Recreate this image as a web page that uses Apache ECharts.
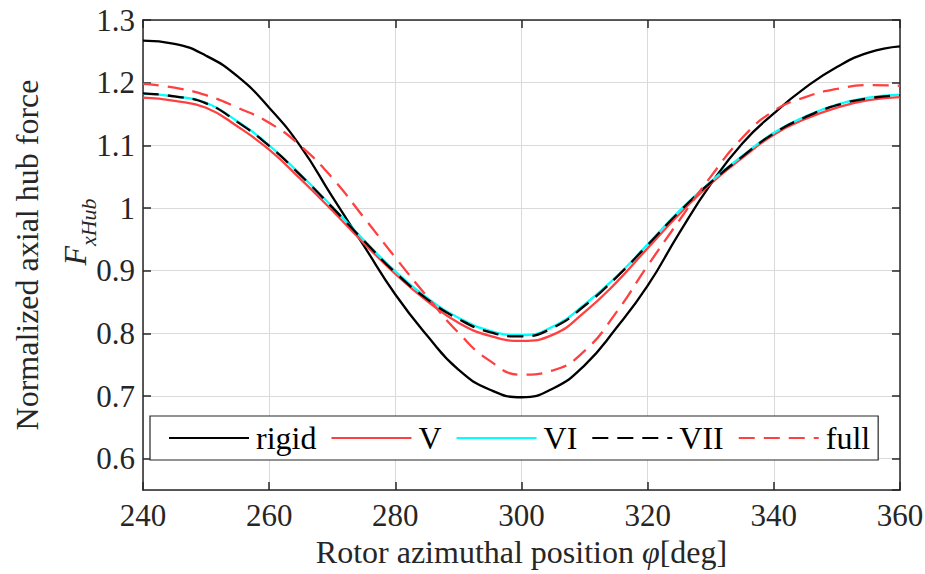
<!DOCTYPE html>
<html>
<head>
<meta charset="utf-8">
<title>Normalized axial hub force</title>
<script src="https://cdn.jsdelivr.net/npm/echarts@6/dist/echarts.min.js"></script>
<style>
  html, body { margin: 0; padding: 0; background: #ffffff; }
  #chart { width: 925px; height: 574px; }
</style>
</head>
<body>
<div id="chart"></div>
<script>
// Rotor azimuthal position [deg]
const phi = [240, 245, 250, 255, 260, 265, 270, 275, 280, 285, 290, 295, 300,
             305, 310, 315, 320, 325, 330, 335, 340, 345, 350, 355, 360];

// Normalized axial hub force for each model
const rigid = [1.267, 1.262, 1.243, 1.210, 1.160, 1.098, 1.018, 0.940, 0.862, 0.797, 0.742, 0.710, 0.698,
               0.712, 0.749, 0.808, 0.876, 0.960, 1.038, 1.103, 1.151, 1.192, 1.225, 1.248, 1.258];
const modelV = [1.176, 1.171, 1.160, 1.130, 1.093, 1.046, 0.996, 0.944, 0.895, 0.852, 0.817, 0.796, 0.788,
                0.798, 0.834, 0.881, 0.936, 0.990, 1.039, 1.080, 1.117, 1.142, 1.160, 1.172, 1.177];
const modelVI = [1.182, 1.178, 1.168, 1.138, 1.100, 1.053, 1.002, 0.949, 0.899, 0.857, 0.825, 0.804, 0.797,
                 0.811, 0.846, 0.890, 0.942, 0.995, 1.042, 1.083, 1.120, 1.146, 1.165, 1.176, 1.181];
const modelVII = [1.183, 1.178, 1.167, 1.137, 1.099, 1.052, 1.001, 0.948, 0.897, 0.855, 0.823, 0.802, 0.795,
                  0.809, 0.844, 0.889, 0.941, 0.994, 1.041, 1.082, 1.119, 1.145, 1.164, 1.175, 1.180];
const full = [1.198, 1.192, 1.180, 1.160, 1.136, 1.099, 1.048, 0.985, 0.921, 0.859, 0.801, 0.756, 0.734,
              0.741, 0.772, 0.833, 0.908, 0.980, 1.050, 1.112, 1.155, 1.177, 1.190, 1.196, 1.195];

const seriesNames = ['rigid', 'V', 'VI', 'VII', 'full'];
const xTicks = { min: 240, max: 360, step: 20 };
const yRange = { min: 0.55, max: 1.3 };

const FONT = 'Liberation Serif';
const INK = '#262626';
const RED = '#ff4040';
const DASH = [16, 9];

function pairs(ys) { return phi.map((p, i) => [p, ys[i]]); }

const axisCommon = {
  axisLine: { show: true, onZero: false, lineStyle: { color: INK, width: 1.5 } },
  axisTick: { show: true, inside: true, length: 8, lineStyle: { color: INK, width: 1.5 } }
};

const chart = echarts.init(document.getElementById('chart'), null, { renderer: 'svg' });

const lineSeries = (name, data, color, dashed) => ({
  name: name,
  type: 'line',
  data: pairs(data),
  xAxisIndex: 0,
  yAxisIndex: 0,
  smooth: 0.5,
  symbol: 'none',
  silent: true,
  animation: false,
  lineStyle: { color: color, width: 2.3, type: dashed ? DASH : 'solid' },
  itemStyle: { color: color }
});

chart.setOption({
  animation: false,
  backgroundColor: '#ffffff',
  textStyle: { fontFamily: FONT },
  grid: { left: 143, right: 25, top: 20, bottom: 84, containLabel: false, outerBoundsMode: 'none' },
  xAxis: [
    Object.assign({
      type: 'value', min: xTicks.min, max: xTicks.max, interval: xTicks.step, position: 'bottom',
      axisLabel: { show: true, margin: 10, color: INK, fontFamily: FONT, fontSize: 31 },
      splitLine: { show: true, lineStyle: { color: '#dadada', width: 1 } },
      name: '{t|Rotor azimuthal position }{i|φ}{t|[deg]}',
      nameLocation: 'middle', nameGap: 46,
      nameTextStyle: {
        rich: {
          t: { fontFamily: FONT, fontSize: 32, color: INK },
          i: { fontFamily: FONT, fontSize: 32, fontStyle: 'italic', color: INK }
        }
      }
    }, axisCommon),
    Object.assign({
      type: 'value', min: xTicks.min, max: xTicks.max, interval: xTicks.step, position: 'top',
      axisLabel: { show: false }, splitLine: { show: false }
    }, axisCommon)
  ],
  yAxis: [
    Object.assign({
      type: 'value', min: yRange.min, max: yRange.max, splitNumber: 7,
      minInterval: 0.1, maxInterval: 0.1, position: 'left',
      axisLabel: {
        show: true, margin: 8, color: INK, fontFamily: FONT, fontSize: 31, showMinLabel: false,
        formatter: v => (Math.abs(v - 0.55) < 1e-6 ? '' : String(Math.round(v * 10) / 10))
      },
      splitLine: { show: true, lineStyle: { color: '#dadada', width: 1 } }
    }, axisCommon),
    Object.assign({
      type: 'value', min: yRange.min, max: yRange.max, splitNumber: 7,
      minInterval: 0.1, maxInterval: 0.1, position: 'right',
      axisLabel: { show: false }, splitLine: { show: false }
    }, axisCommon)
  ],
  legend: {
    left: 150, top: 416,
    orient: 'horizontal',
    backgroundColor: '#ffffff',
    borderColor: INK, borderWidth: 1.2, borderRadius: 0,
    padding: [6, 8, 6, 18],
    itemWidth: 80, itemHeight: 20, itemGap: 14,
    itemStyle: { opacity: 0 },
    textStyle: { fontFamily: FONT, fontSize: 32, color: '#000000', padding: [0, 0, 0, 2] },
    data: seriesNames.map(n => ({ name: n })),
    selectedMode: false
  },
  graphic: [
    {
      type: 'text', x: 27, y: 255, rotation: Math.PI / 2,
      style: {
        text: 'Normalized axial hub force', fill: INK,
        font: '32px "Liberation Serif"', align: 'center', verticalAlign: 'middle'
      }
    },
    {
      type: 'text', x: 75, y: 232, rotation: Math.PI / 2,
      style: {
        text: '{f|F}{s|xHub}', fill: INK, align: 'center', verticalAlign: 'middle',
        rich: {
          f: { font: 'italic 32px "Liberation Serif"', fill: INK, verticalAlign: 'bottom' },
          s: { font: 'italic 22px "Liberation Serif"', fill: INK, verticalAlign: 'bottom', padding: [0, 0, -8, 0] }
        }
      }
    }
  ],
  series: [
    lineSeries('rigid', rigid, '#000000', false),
    lineSeries('V', modelV, RED, false),
    lineSeries('VI', modelVI, '#00ffff', false),
    lineSeries('VII', modelVII, '#000000', true),
    lineSeries('full', full, RED, true)
  ]
});
</script>
</body>
</html>
